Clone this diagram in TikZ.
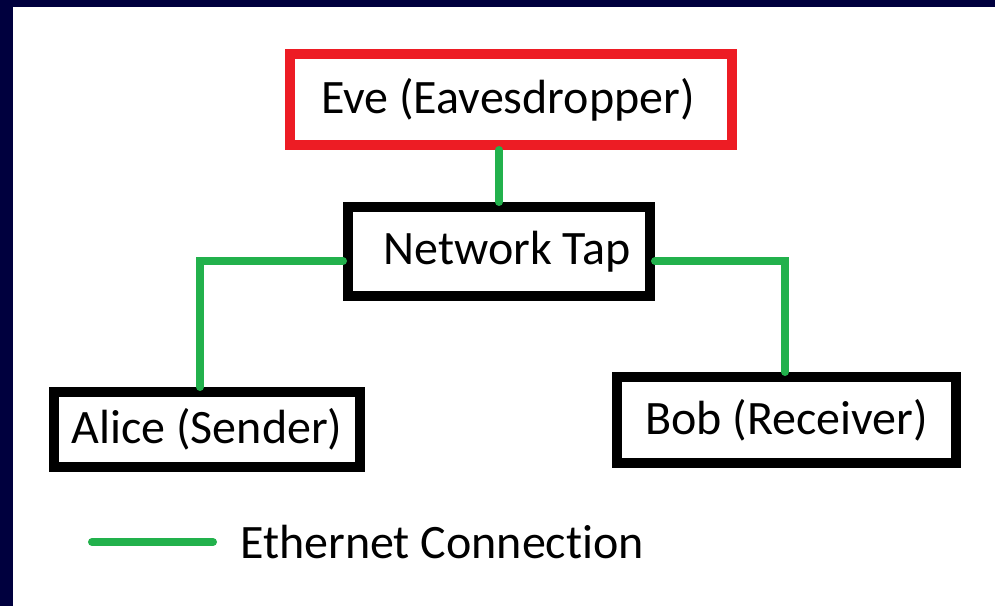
\documentclass[tikz,border=0pt]{standalone}
\usepackage{fontspec}
\setmainfont[Ligatures={NoCommon}]{Carlito}
\definecolor{navy}{RGB}{0,0,62}
\definecolor{eveRed}{RGB}{237,28,36}
\definecolor{ethGreen}{RGB}{34,177,76}
\begin{document}
\begin{tikzpicture}[x=1pt,y=-1pt,
  box/.style={draw=black,line width=10pt,rectangle,inner sep=0pt,
    font=\fontsize{48}{52}\selectfont},
  evebox/.style={box,draw=eveRed},
  eth/.style={draw=ethGreen,line width=8pt,line cap=round}]
\useasboundingbox (0,0) rectangle (995,606);
\fill[white] (0,0) rectangle (995,606);
\fill[navy] (0,0) rectangle (995,7);
\fill[navy] (0,0) rectangle (13,606);

\node[evebox,minimum width=442pt,minimum height=91pt] (eve) at (511,99.5) {Eve (Eavesdropper)\hspace*{6pt}};
\node[box,minimum width=302pt,minimum height=89pt] (tap) at (499,251.5) {\hspace*{16pt}Network Tap};
\node[box,minimum width=306pt,minimum height=75pt] (alice) at (207,429.5) {Alice (Sender)};
\node[box,minimum width=339pt,minimum height=86pt] (bob) at (786.5,420) {Bob (Receiver)};

\coordinate (lj) at (200,261);
\coordinate (rj) at (785,261);
\draw[eth] (tap.north) -- (tap.north |- eve.south);
\draw[eth] (tap.west |- lj) -- (lj) -- (alice.north -| lj);
\draw[eth] (tap.east |- rj) -- (rj) -- (bob.north -| rj);

\coordinate (l1) at (92,542);
\coordinate (l2) at (213,542);
\draw[eth] (l1) -- (l2);
\node[anchor=base west,inner sep=0pt,font=\fontsize{48}{52}\selectfont] (legend) at (240,558) {Ethernet Connection};
\end{tikzpicture}
\end{document}
